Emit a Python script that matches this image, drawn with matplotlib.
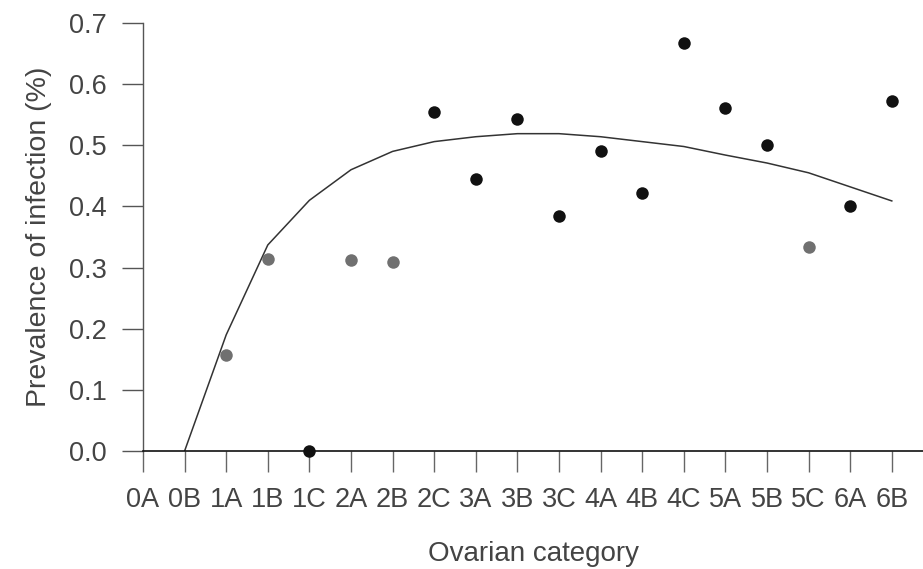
import matplotlib
matplotlib.use("Agg")
import matplotlib.pyplot as plt

categories = ["0A", "0B", "1A", "1B", "1C", "2A", "2B", "2C", "3A", "3B",
              "3C", "4A", "4B", "4C", "5A", "5B", "5C", "6A", "6B"]

# observed prevalence (black = dark points, gray = light points)
dark_cats = ["1C", "2C", "3A", "3B", "3C", "4A", "4B", "4C", "5A", "5B", "6A", "6B"]
dark_vals = [0.0, 0.555, 0.445, 0.543, 0.385, 0.49, 0.422, 0.668, 0.561, 0.50, 0.40, 0.572]
light_cats = ["1A", "1B", "2A", "2B", "5C"]
light_vals = [0.157, 0.314, 0.313, 0.309, 0.334]

# fitted curve
fit_cats = ["0B", "1A", "1B", "1C", "2A", "2B", "2C", "3A", "3B", "3C",
            "4A", "4B", "4C", "5A", "5B", "5C", "6A", "6B"]
fit_vals = [0.0, 0.19, 0.337, 0.41, 0.46, 0.49, 0.506, 0.514, 0.519, 0.519,
            0.514, 0.506, 0.498, 0.484, 0.471, 0.455, 0.432, 0.409]

yticks = [0.0, 0.1, 0.2, 0.3, 0.4, 0.5, 0.6, 0.7]

plt.rcParams["font.family"] = ["Liberation Sans", "DejaVu Sans"]

W, H = 923, 569
fig = plt.figure(figsize=(W / 100, H / 100), dpi=100)
left, right, top, bottom = 143, 923, 23, 451
ax = fig.add_axes([left / W, (H - bottom) / H, (right - left) / W, (bottom - top) / H])

pos = {c: i for i, c in enumerate(categories)}

ax.plot([pos[c] for c in fit_cats], fit_vals, color="#333333", lw=1.1, zorder=2)
ax.plot([pos[c] for c in light_cats], light_vals, "o", color="#707070",
        markersize=9, markeredgewidth=0, zorder=3, clip_on=False)
ax.plot([pos[c] for c in dark_cats], dark_vals, "o", color="#111111",
        markersize=9, markeredgewidth=0, zorder=4, clip_on=False)

ax.set_xlim(0, 18.75)
ax.set_ylim(0, 0.7)

for s in ["top", "right"]:
    ax.spines[s].set_visible(False)
ax.spines["left"].set_color("#555555")
ax.spines["left"].set_linewidth(1.0)
ax.spines["bottom"].set_color("#111111")
ax.spines["bottom"].set_linewidth(1.2)

ax.set_xticks(range(len(categories)))
ax.set_xticklabels(categories)
ax.set_yticks(yticks)
ax.set_yticklabels([f"{v:.1f}" for v in yticks])

ax.tick_params(axis="y", direction="out", length=15, width=1.0, color="#555555",
               pad=11, labelsize=19.5, labelcolor="#444444")
ax.tick_params(axis="x", direction="out", length=15, width=1.0, color="#666666",
               pad=11, labelsize=19.5, labelcolor="#444444")

ax.set_xlabel("Ovarian category", fontsize=20, color="#444444", labelpad=20)
ax.set_ylabel("Prevalence of infection (%)", fontsize=20.5, color="#444444", labelpad=12)

fig.savefig("out.png", dpi=100)
